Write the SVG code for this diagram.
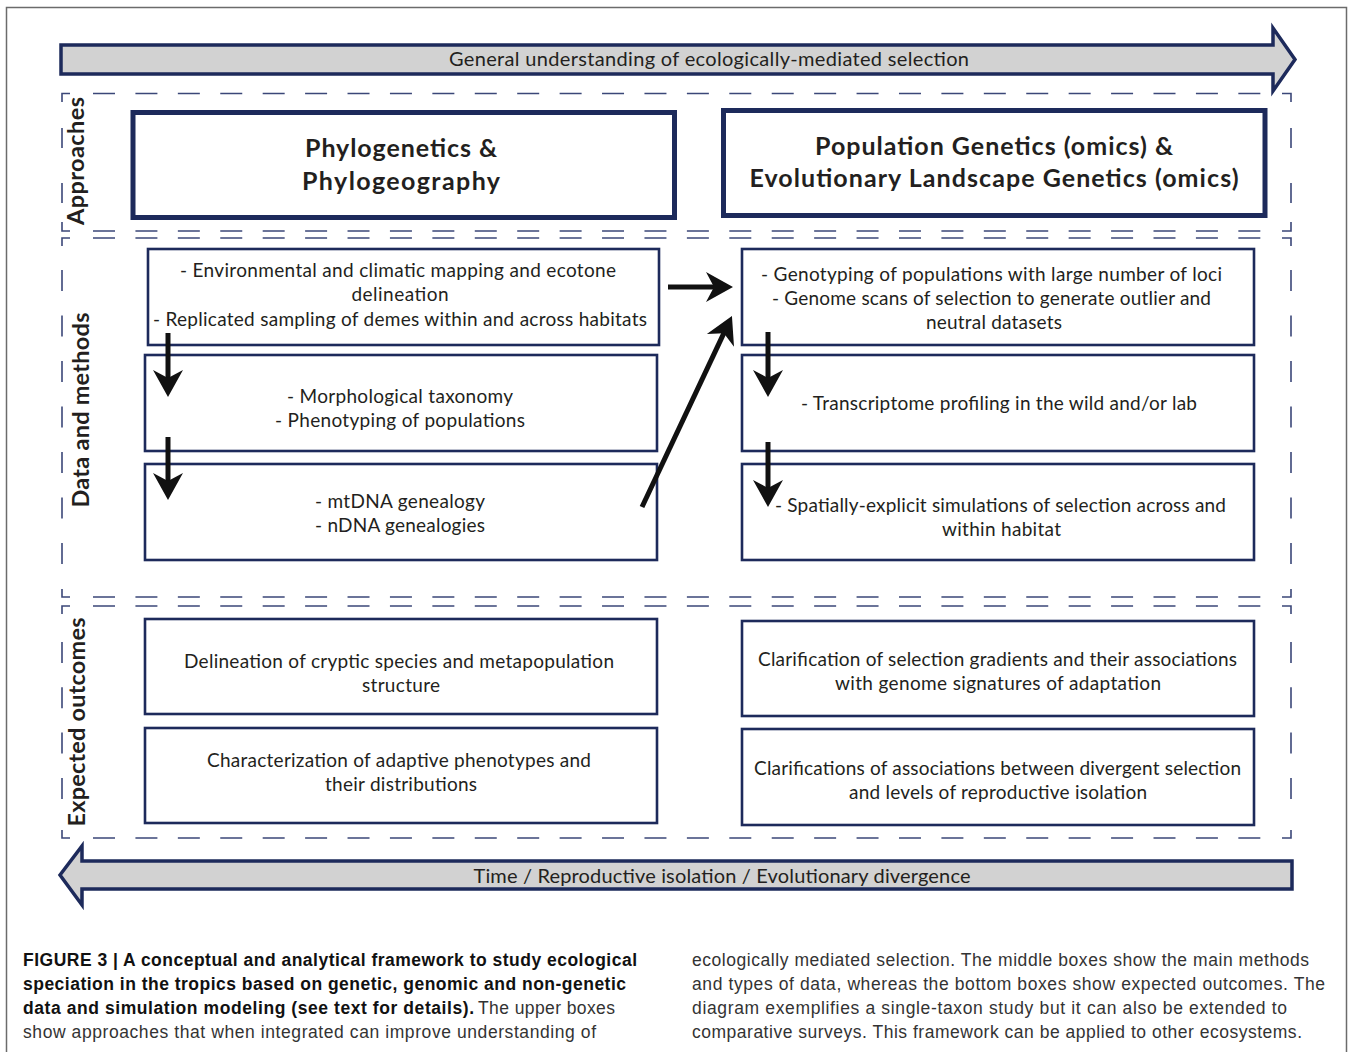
<svg xmlns="http://www.w3.org/2000/svg" width="1350" height="1052" viewBox="0 0 1350 1052">
<style>
.bg{fill:#ffffff}
.frame{fill:none;stroke:#6b6b6b;stroke-width:1.5}
.banner{fill:#d2d2d2;stroke:#1d2a5b;stroke-width:3.5;stroke-linejoin:miter}
.dash{fill:none;stroke:#3b4778;stroke-width:1.6}
.thick{fill:#ffffff;stroke:#1d2a5b;stroke-width:5}
.thin{fill:#ffffff;stroke:#1d2a5b;stroke-width:2.6}
.t{font-family:Lato,"Open Sans","Liberation Sans",sans-serif;font-size:19px;fill:#231f20;text-anchor:middle}
.h{font-family:Lato,"Open Sans","Liberation Sans",sans-serif;font-size:25px;font-weight:bold;fill:#231f20;text-anchor:middle}
.lab{font-family:Lato,"Open Sans","Liberation Sans",sans-serif;font-size:23.5px;font-weight:bold;fill:#231f20;text-anchor:middle}
.ban{font-family:Lato,"Open Sans","Liberation Sans",sans-serif;font-size:20px;fill:#231f20;text-anchor:middle}
.cb{font-family:"Liberation Sans",Arial,sans-serif;font-size:17.5px;font-weight:bold;fill:#111111}
.cr{font-family:"Liberation Sans",Arial,sans-serif;font-size:17.5px;fill:#333333}
.conn{fill:none;stroke:#111111;stroke-width:5}
</style>
<defs>
<marker id="ah" viewBox="-30 -17 32 34" refX="-17" refY="0" markerWidth="32" markerHeight="34" markerUnits="userSpaceOnUse" orient="auto">
<path d="M0,0 L-27,-15 L-19,0 L-27,15 Z" fill="#111111"/>
</marker>
</defs>
<rect class="bg" x="0" y="0" width="1350" height="1052"/>
<path class="frame" d="M6.5,1052 V7.5 H1346.5 V1052"/>

<g id="banner-top">
<path class="banner" d="M61,45 L1273,45 L1273,28 L1295,59.5 L1273,91 L1273,74 L61,74 Z"/>
<text class="ban" x="709" y="66" textLength="520">General understanding of ecologically-mediated selection</text>
</g>
<g id="banner-bottom">
<path class="banner" d="M60,875 L82,846 L82,861 L1292,861 L1292,889 L82,889 L82,905 Z"/>
<text class="ban" x="722" y="883" textLength="497">Time / Reproductive isolation / Evolutionary divergence</text>
</g>

<g id="sections">
<g stroke-dasharray="22 20.42" class="dash">
<line x1="93" y1="93.5" x2="1260.5" y2="93.5"/>
<line x1="93" y1="231" x2="1260.5" y2="231"/>
<line x1="93" y1="238" x2="1260.5" y2="238"/>
<line x1="93" y1="597" x2="1260.5" y2="597"/>
<line x1="93" y1="606" x2="1260.5" y2="606"/>
<line x1="93" y1="838" x2="1260.5" y2="838"/>
</g>
<g class="dash">
<path d="M70,93.5 H62 V102 M62,222 V231 H70 M1282,93.5 H1291 V102 M1291,222 V231 H1282"/>
<path d="M70,238 H62 V246 M62,589 V597 H70 M1282,238 H1291 V246 M1291,589 V597 H1282"/>
<path d="M70,606 H62 V614 M62,830 V838 H70 M1282,606 H1291 V614 M1291,830 V838 H1282"/>
</g>
<g class="dash" stroke-dasharray="20 35">
<line x1="62" y1="128" x2="62" y2="203"/>
<line x1="1291" y1="128" x2="1291" y2="203"/>
</g>
<g class="dash" stroke-dasharray="21 24.5">
<line x1="62" y1="270" x2="62" y2="564"/>
<line x1="1291" y1="270" x2="1291" y2="564"/>
</g>
<g class="dash" stroke-dasharray="21 24.3">
<line x1="62" y1="642" x2="62" y2="800"/>
<line x1="1291" y1="642" x2="1291" y2="800"/>
</g>
<text class="lab" transform="translate(84,161) rotate(-90)" textLength="128">Approaches</text>
<text class="lab" transform="translate(89,410) rotate(-90)" textLength="195">Data and methods</text>
<text class="lab" transform="translate(85,722) rotate(-90)" textLength="209">Expected outcomes</text>
</g>

<g id="phylogenetics">
<rect class="thick" x="133" y="112.5" width="541.5" height="105"/>
<text class="h" x="401" y="157" textLength="192">Phylogenetics &amp;</text>
<text class="h" x="401" y="190" textLength="198">Phylogeography</text>
</g>
<g id="population-genetics">
<rect class="thick" x="723.5" y="110.5" width="541.5" height="105"/>
<text class="h" x="994" y="155" textLength="358">Population Genetics (omics) &amp;</text>
<text class="h" x="994" y="187" textLength="489">Evolutionary Landscape Genetics (omics)</text>
</g>

<g id="env-mapping">
<rect class="thin" x="148" y="249" width="511" height="96"/>
<text class="t" x="398" y="277" textLength="436">- Environmental and climatic mapping and ecotone</text>
<text class="t" x="400" y="301" textLength="97">delineation</text>
<text class="t" x="400" y="326" textLength="494">- Replicated sampling of demes within and across habitats</text>
</g>
<g id="morphology">
<rect class="thin" x="145" y="355" width="512" height="96"/>
<text class="t" x="400" y="403" textLength="226">- Morphological taxonomy</text>
<text class="t" x="400" y="427" textLength="250">- Phenotyping of populations</text>
</g>
<g id="genealogy">
<rect class="thin" x="145" y="464" width="512" height="96"/>
<text class="t" x="400" y="508" textLength="170">- mtDNA genealogy</text>
<text class="t" x="400" y="532" textLength="170">- nDNA genealogies</text>
</g>
<g id="genotyping">
<rect class="thin" x="742" y="249" width="512" height="96"/>
<text class="t" x="991.5" y="281" textLength="461">- Genotyping of populations with large number of loci</text>
<text class="t" x="991.5" y="305" textLength="439">- Genome scans of selection to generate outlier and</text>
<text class="t" x="994" y="329" textLength="136">neutral datasets</text>
</g>
<g id="transcriptome">
<rect class="thin" x="742" y="355" width="512" height="96"/>
<text class="t" x="999" y="410" textLength="396">- Transcriptome profiling in the wild and/or lab</text>
</g>
<g id="simulations">
<rect class="thin" x="742" y="464" width="512" height="96"/>
<text class="t" x="1000.5" y="512" textLength="451">- Spatially-explicit simulations of selection across and</text>
<text class="t" x="1001.5" y="536" textLength="119">within habitat</text>
</g>

<g id="cryptic-species">
<rect class="thin" x="145" y="619" width="512" height="95"/>
<text class="t" x="399" y="668" textLength="430">Delineation of cryptic species and metapopulation</text>
<text class="t" x="401" y="692" textLength="78">structure</text>
</g>
<g id="adaptive-phenotypes">
<rect class="thin" x="145" y="728" width="512" height="95"/>
<text class="t" x="399" y="767" textLength="384">Characterization of adaptive phenotypes and</text>
<text class="t" x="401" y="791" textLength="152">their distributions</text>
</g>
<g id="selection-gradients">
<rect class="thin" x="742" y="621" width="512" height="95"/>
<text class="t" x="997.5" y="666" textLength="479">Clarification of selection gradients and their associations</text>
<text class="t" x="998" y="690" textLength="326">with genome signatures of adaptation</text>
</g>
<g id="reproductive-isolation">
<rect class="thin" x="742" y="729" width="512" height="96"/>
<text class="t" x="997.5" y="775" textLength="487">Clarifications of associations between divergent selection</text>
<text class="t" x="998" y="799" textLength="298">and levels of reproductive isolation</text>
</g>

<g id="connectors">
<line class="conn" x1="168" y1="333" x2="168" y2="380" marker-end="url(#ah)"/>
<line class="conn" x1="168" y1="437" x2="168" y2="483" marker-end="url(#ah)"/>
<line class="conn" x1="768" y1="332" x2="768" y2="380" marker-end="url(#ah)"/>
<line class="conn" x1="768" y1="442" x2="768" y2="490" marker-end="url(#ah)"/>
<line class="conn" x1="668" y1="287" x2="716" y2="287" marker-end="url(#ah)"/>
<line class="conn" x1="642" y1="507" x2="724.7" y2="331.4" marker-end="url(#ah)"/>
</g>

<g id="caption">
<text class="cb" x="23" y="966" textLength="614">FIGURE 3 | A conceptual and analytical framework to study ecological</text>
<text class="cb" x="23" y="990" textLength="603">speciation in the tropics based on genetic, genomic and non-genetic</text>
<text class="cb" x="23" y="1014" textLength="451">data and simulation modeling (see text for details).</text>
<text class="cr" x="478" y="1014" textLength="137">The upper boxes</text>
<text class="cr" x="23" y="1038" textLength="573">show approaches that when integrated can improve understanding of</text>
<text class="cr" x="692" y="966" textLength="617">ecologically mediated selection. The middle boxes show the main methods</text>
<text class="cr" x="692" y="990" textLength="633">and types of data, whereas the bottom boxes show expected outcomes. The</text>
<text class="cr" x="692" y="1014" textLength="595">diagram exemplifies a single-taxon study but it can also be extended to</text>
<text class="cr" x="692" y="1038" textLength="610">comparative surveys. This framework can be applied to other ecosystems.</text>
</g>
</svg>
